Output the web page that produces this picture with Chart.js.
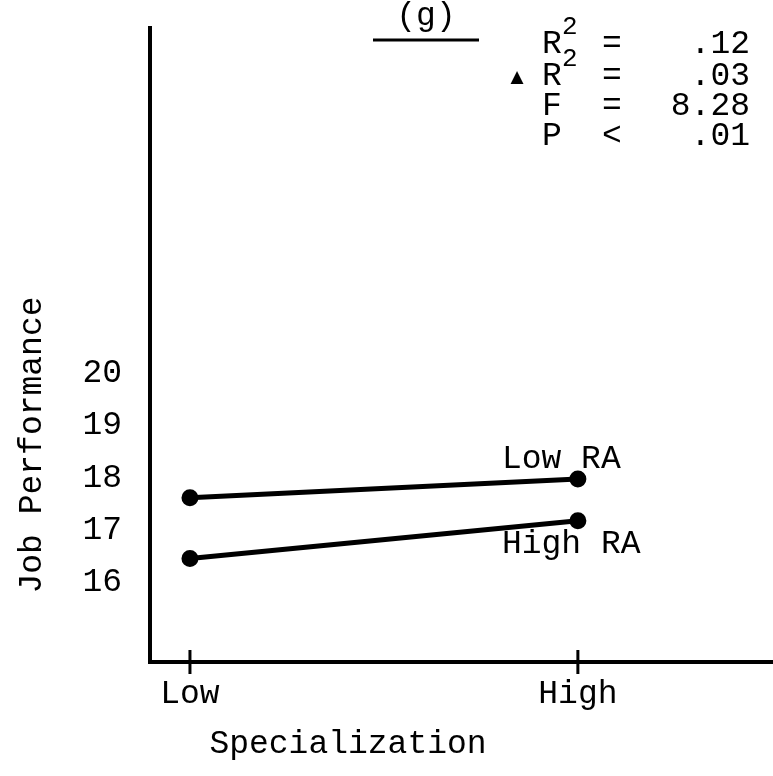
<!DOCTYPE html>
<html>
<head>
<meta charset="utf-8">
<script src="https://cdn.jsdelivr.net/npm/chart.js@4.4.1/dist/chart.umd.min.js"></script>
<style>
  html, body { margin: 0; padding: 0; background: #fff; }
  canvas { display: block; }
</style>
</head>
<body>
<canvas id="plotChart" width="773" height="776"></canvas>
<script>
// values
const categories = ["Low", "High"];
const xPositions = [0, 1];
const lowRA = [17.62, 17.98];
const highRA = [16.46, 17.18];
const yTicks = [16, 17, 18, 19, 20];
const seriesNames = ["Low RA", "High RA"];
const statNames = ["R", "R", "F", "P"];
const statOps = ["=", "=", "=", "<"];
const statValues = [".12", ".03", "8.28", ".01"];

const FONT = "'Liberation Mono', 'Courier New', monospace";
const ink = "#000";

function toPoints(vals) {
    return vals.map((v, i) => ({ x: xPositions[i], y: v }));
}

// drop the label padding chart.js reserves so the axes reach the edges
function noPad(s) {
    s.paddingTop = 0;
    s.paddingBottom = 0;
    s.paddingLeft = 0;
    s.paddingRight = 0;
}

// titles, series labels, stats block and x tick marks
const decorations = {
    id: "decorations",
    afterDraw(chart) {
        const c = chart.ctx;
        const x = chart.scales.x;
        const y = chart.scales.y;
        c.save();
        c.fillStyle = ink;
        c.strokeStyle = ink;

        // tick marks crossing the x axis
        c.lineWidth = 3;
        xPositions.forEach((v) => {
            const px = x.getPixelForValue(v);
            c.beginPath();
            c.moveTo(px, y.bottom - 12);
            c.lineTo(px, y.bottom + 12);
            c.stroke();
        });

        c.font = "33px " + FONT;
        c.textBaseline = "middle";

        // series labels next to the High end of each line
        const last = xPositions.length - 1;
        const pxHigh = x.getPixelForValue(xPositions[last]);
        c.textAlign = "left";
        c.fillText(seriesNames[0], pxHigh - 76, y.getPixelForValue(lowRA[last]) - 20);
        c.fillText(seriesNames[1], pxHigh - 76, y.getPixelForValue(highRA[last]) + 24);

        // axis titles
        c.textAlign = "center";
        c.fillText("Specialization", 348, 744);
        c.save();
        c.translate(32, 445);
        c.rotate(-Math.PI / 2);
        c.fillText("Job Performance", 0, 0);
        c.restore();

        // panel label
        c.fillText("(g)", 426, 16);
        c.lineWidth = 3;
        c.beginPath();
        c.moveTo(373, 40);
        c.lineTo(479, 40);
        c.stroke();

        // stats block
        const rows = [44, 76, 106, 136];
        rows.forEach((ry, i) => {
            c.textAlign = "left";
            c.font = "33px " + FONT;
            c.fillText(statNames[i], 542, ry);
            c.fillText(statOps[i], 602, ry);
            c.textAlign = "right";
            c.fillText(statValues[i], 750, ry);
            if (i < 2) {
                c.textAlign = "left";
                c.font = "26px " + FONT;
                c.fillText("2", 562, ry - 17);
            }
        });
        c.font = "17px 'DejaVu Sans'";
        c.textAlign = "center";
        c.fillText("\u25B2", 517, rows[1] + 2);

        c.restore();
    }
};

const ctx = document.getElementById("plotChart").getContext("2d");

new Chart(ctx, {
    type: "line",
    data: {
        datasets: [
            {
                label: seriesNames[0],
                data: toPoints(lowRA),
                borderColor: ink,
                backgroundColor: ink,
                borderWidth: 5,
                pointRadius: 6,
                pointBackgroundColor: ink,
                tension: 0,
            },
            {
                label: seriesNames[1],
                data: toPoints(highRA),
                borderColor: ink,
                backgroundColor: ink,
                borderWidth: 5,
                pointRadius: 6,
                pointBackgroundColor: ink,
                tension: 0,
            },
        ],
    },
    options: {
        responsive: false,
        animation: false,
        layout: { autoPadding: false, padding: { top: 28, left: 0, right: 0, bottom: 0 } },
        plugins: {
            legend: { display: false },
            tooltip: { enabled: false },
        },
        scales: {
            x: {
                type: "linear",
                min: -0.103,
                max: 1.503,
                afterBuildTicks: (s) => { s.ticks = xPositions.map((v) => ({ value: v })); },
                afterFit: (s) => { s.height = 114; noPad(s); },
                grid: { display: false },
                border: { display: true, color: ink, width: 4 },
                ticks: {
                    color: ink,
                    font: { family: FONT, size: 33 },
                    padding: 4,
                    maxRotation: 0,
                    callback: (v, i) => categories[i],
                },
            },
            y: {
                type: "linear",
                min: 14.48,
                max: 26.6,
                afterBuildTicks: (s) => { s.ticks = yTicks.map((v) => ({ value: v })); },
                afterFit: (s) => { s.width = 150; noPad(s); },
                grid: { display: false },
                border: { display: true, color: ink, width: 4 },
                ticks: {
                    color: ink,
                    font: { family: FONT, size: 33 },
                    padding: 20,
                },
            },
        },
    },
    plugins: [decorations],
});
</script>
</body>
</html>
